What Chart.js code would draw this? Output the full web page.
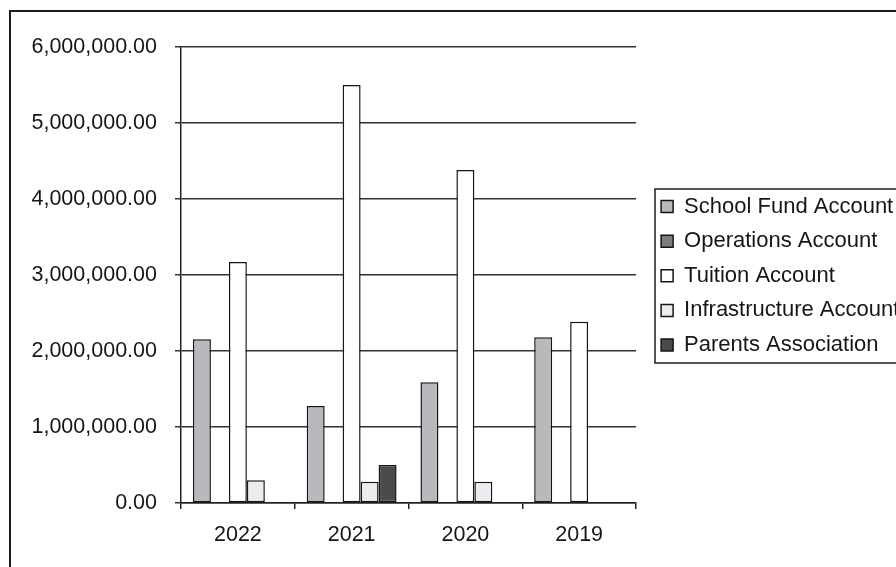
<!DOCTYPE html>
<html>
<head>
<meta charset="utf-8">
<script src="https://cdn.jsdelivr.net/npm/chart.js@4.4.1/dist/chart.umd.min.js"></script>
<style>
  html, body { margin: 0; padding: 0; background: #fff; overflow: hidden; }
  #wrap { width: 896px; height: 567px; }
</style>
</head>
<body>
<div id="wrap"><canvas id="accounts" width="896" height="567"></canvas></div>
<script>
// account balances per year
const years = ['2022', '2021', '2020', '2019'];
const accountNames = ['School Fund Account', 'Operations Account', 'Tuition Account', 'Infrastructure Account', 'Parents Association'];
const schoolFund = [2155000, 1276000, 1590000, 2180000];
const operations = [0, 0, 0, 0];
const tuition = [3170000, 5500000, 4380000, 2385000];
const infrastructure = [300000, 280000, 280000, 0];
const parentsAssoc = [0, 500000, 10000, 0];
const yTicks = [0, 1000000, 2000000, 3000000, 4000000, 5000000, 6000000];

const fills = ['#b9b9bd', '#7d7d7d', '#ffffff', '#ececf0', '#4b4b4b'];
const seriesValues = [schoolFund, operations, tuition, infrastructure, parentsAssoc];

const ink = '#161616';
const fontFace = '"Liberation Sans", Arial, sans-serif';

// frame round the whole chart + border round the legend
const frames = {
    id: 'frames',
    afterLayout(chart) {
        const lg = chart.legend;
        lg.left = 648.5;
        lg.right = 1000;
        lg.top = 183;
        lg.bottom = 420;
    },
    afterDraw(chart) {
        const ctx = chart.ctx;
        ctx.save();
        ctx.strokeStyle = '#1c1c1c';
        ctx.lineWidth = 2;
        ctx.strokeRect(10, 11, 1000, 1000);
        ctx.lineWidth = 1.5;
        ctx.strokeRect(655, 189, 400, 174);
        ctx.restore();
    }
};

const datasets = accountNames.map((name, i) => ({
    label: name,
    data: seriesValues[i],
    backgroundColor: fills[i],
    borderColor: '#151515',
    borderWidth: 1.5,
    borderSkipped: false,
    categoryPercentage: 0.79,
    barPercentage: 1.0
}));

new Chart(document.getElementById('accounts'), {
    type: 'bar',
    data: { labels: years, datasets: datasets },
    plugins: [frames],
    options: {
        responsive: false,
        animation: false,
        layout: { padding: { top: 47, left: 0, right: 15, bottom: 0 } },
        plugins: {
            tooltip: { enabled: false },
            legend: {
                position: 'right',
                align: 'start',
                maxWidth: 245,
                labels: {
                    boxWidth: 12,
                    boxHeight: 12,
                    padding: 12.6,
                    color: ink,
                    font: { family: fontFace, size: 22 }
                }
            }
        },
        scales: {
            x: {
                afterFit: s => { s.height = 64; },
                grid: {
                    drawOnChartArea: false,
                    drawTicks: true,
                    tickLength: 6,
                    color: '#222',
                    lineWidth: 1.5
                },
                border: { display: true, color: '#222', width: 1.5 },
                ticks: {
                    color: ink,
                    padding: 13,
                    font: { family: fontFace, size: 21.5 }
                }
            },
            y: {
                min: 0,
                max: 6000000,
                afterFit: s => { s.width = 181; },
                afterBuildTicks: s => { s.ticks = yTicks.map(v => ({ value: v })); },
                grid: {
                    color: '#333',
                    lineWidth: 1.5,
                    tickLength: 6,
                    drawTicks: true
                },
                border: { display: true, color: '#222', width: 1.5 },
                ticks: {
                    color: ink,
                    padding: 18,
                    font: { family: fontFace, size: 21.5 },
                    callback: v => Number(v).toLocaleString('en-US', { minimumFractionDigits: 2, maximumFractionDigits: 2 })
                }
            }
        }
    }
});
</script>
</body>
</html>
